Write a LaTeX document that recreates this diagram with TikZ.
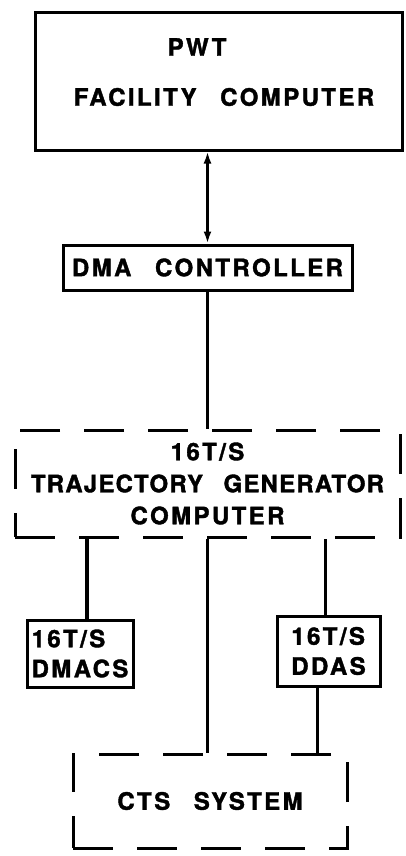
\documentclass[tikz,border=0pt]{standalone}
\usepackage{fontspec}
\setmainfont{TeX Gyre Heros}[LetterSpace=10,WordSpace=2.6,BoldFeatures={FakeBold=1.6}]
\usetikzlibrary{arrows.meta,positioning}
\tikzset{
  blk/.style={draw,line width=3pt,inner sep=2pt,font=\fontsize{24}{32}\selectfont\bfseries},
  dashblk/.style={blk,dash pattern=on 40pt off 24pt},
  txt/.style={inner sep=0pt,font=\fontsize{24}{32}\selectfont\bfseries},
  wire/.style={line width=3.2pt}
}
\begin{document}
\begin{tikzpicture}[x=1pt,y=-1pt,>={Latex[length=12pt,width=8pt]}]
\useasboundingbox (0,0) rectangle (406,856);
% facility computer
\node[blk,minimum width=367pt,minimum height=137pt] (pwt) at (218.5,81.5) {};
\node[txt] (pwtA) at (197,47) {PWT};
\node[txt] (pwtB) at (224,97) {FACILITY COMPUTER};
% dma
\node[blk,minimum width=289pt,minimum height=45pt] (dma) at (207.5,267.5) {DMA CONTROLLER};
% trajectory generator
\node[dashblk,minimum width=385pt,minimum height=107pt,align=center] (tgc) at (207.5,483.5)
  {16T/S\\\addfontfeature{LetterSpace=5}TRAJECTORY GENERATOR\\COMPUTER};
% sub systems
\node[blk,minimum width=106pt,minimum height=67pt,align=left,font=\fontsize{24}{30}\selectfont\bfseries] (dmacs) at (80,653.5) {16T/S\\DMACS};
\node[blk,minimum width=103pt,minimum height=70pt,align=left,font=\fontsize{24}{30}\selectfont\bfseries] (ddas) at (328.5,651) {16T/S\\DDAS};
\node[dashblk,minimum width=274pt,minimum height=94pt] (cts) at (210,801) {CTS SYSTEM};
% links
\draw[wire,<->] (pwt.south -| dma.north) -- (dma.north);
\draw[wire] (dma.south) -- (dma.south |- tgc.north);
\draw[wire] ([xshift=7pt]dmacs.north) -- ([xshift=7pt]dmacs.north |- tgc.south);
\draw[wire] ([xshift=-3pt]ddas.north) -- ([xshift=-3pt]ddas.north |- tgc.south);
\draw[wire] (tgc.south) -- (tgc.south |- cts.north);
\draw[wire] ([xshift=-11pt]ddas.south) -- ([xshift=-11pt]ddas.south |- cts.north);
\end{tikzpicture}
\end{document}
